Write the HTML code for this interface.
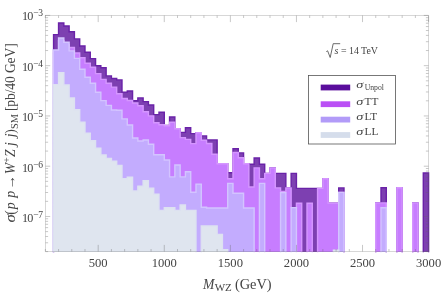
<!DOCTYPE html>
<html><head><meta charset="utf-8"><style>html,body{margin:0;padding:0;background:#fff}body{width:441px;height:293px;overflow:hidden;font-family:"Liberation Serif",serif}</style></head><body><svg width="441" height="293" viewBox="0 0 441 293" style="display:block;will-change:transform;transform:translateZ(0)">
<path d="M53.57 252.00 L53.57 34.60 L58.56 34.60 L58.56 23.00 L63.84 23.00 L63.84 26.00 L69.13 26.00 L69.13 31.80 L74.41 31.80 L74.41 38.90 L79.70 38.90 L79.70 46.00 L84.99 46.00 L84.99 52.30 L90.27 52.30 L90.27 58.60 L95.56 58.60 L95.56 65.80 L100.84 65.80 L100.84 67.70 L106.13 67.70 L106.13 75.90 L111.42 75.90 L111.42 78.50 L116.70 78.50 L116.70 79.90 L121.99 79.90 L121.99 92.10 L127.27 92.10 L127.27 91.00 L132.56 91.00 L132.56 100.70 L137.85 100.70 L137.85 97.90 L143.13 97.90 L143.13 101.60 L148.42 101.60 L148.42 105.00 L153.70 105.00 L153.70 114.60 L158.99 114.60 L158.99 112.30 L164.28 112.30 L164.28 125.50 L169.56 125.50 L169.56 117.00 L174.85 117.00 L174.85 128.80 L180.13 128.80 L180.13 132.40 L185.42 132.40 L185.42 127.80 L190.71 127.80 L190.71 133.60 L195.99 133.60 L195.99 132.70 L201.28 132.70 L201.28 135.90 L206.56 135.90 L206.56 139.90 L211.85 139.90 L211.85 139.90 L217.14 139.90 L217.14 163.80 L222.42 163.80 L222.42 163.80 L227.71 163.80 L227.71 172.80 L232.99 172.80 L232.99 148.80 L238.28 148.80 L238.28 152.90 L243.57 152.90 L243.57 163.80 L248.85 163.80 L248.85 164.30 L254.14 164.30 L254.14 158.00 L259.42 158.00 L259.42 164.30 L264.71 164.30 L264.71 173.40 L270.00 173.40 L270.00 167.90 L275.28 167.90 L275.28 173.40 L280.57 173.40 L280.57 173.40 L285.85 173.40 L285.85 187.90 L291.14 187.90 L291.14 173.40 L296.43 173.40 L296.43 188.40 L301.71 188.40 L301.71 188.40 L307.00 188.40 L307.00 188.40 L312.28 188.40 L312.28 188.40 L317.57 188.40 L317.57 188.40 L322.86 188.40 L322.86 178.80 L328.14 178.80 L328.14 203.10 L333.43 203.10 L333.43 203.10 L338.71 203.10 L338.71 187.90 L344.00 187.90 L344.00 251.50 L344.00 252.00 Z M375.72 252.00 L375.72 202.90 L381.00 202.90 L381.00 187.80 L386.29 187.80 L386.29 251.50 L386.29 252.00 Z M396.86 252.00 L396.86 187.80 L402.15 187.80 L402.15 251.50 L402.15 252.00 Z M412.72 252.00 L412.72 202.90 L418.00 202.90 L418.00 251.50 L418.00 252.00 Z M423.29 252.00 L423.29 173.00 L428.58 173.00 L428.58 251.50 L428.58 252.00 Z " fill="#7d40b1"/>
<path d="M53.57 251.50 L53.57 34.60 L58.56 34.60 L58.56 23.00 L63.84 23.00 L63.84 26.00 L69.13 26.00 L69.13 31.80 L74.41 31.80 L74.41 38.90 L79.70 38.90 L79.70 46.00 L84.99 46.00 L84.99 52.30 L90.27 52.30 L90.27 58.60 L95.56 58.60 L95.56 65.80 L100.84 65.80 L100.84 67.70 L106.13 67.70 L106.13 75.90 L111.42 75.90 L111.42 78.50 L116.70 78.50 L116.70 79.90 L121.99 79.90 L121.99 92.10 L127.27 92.10 L127.27 91.00 L132.56 91.00 L132.56 100.70 L137.85 100.70 L137.85 97.90 L143.13 97.90 L143.13 101.60 L148.42 101.60 L148.42 105.00 L153.70 105.00 L153.70 114.60 L158.99 114.60 L158.99 112.30 L164.28 112.30 L164.28 125.50 L169.56 125.50 L169.56 117.00 L174.85 117.00 L174.85 128.80 L180.13 128.80 L180.13 132.40 L185.42 132.40 L185.42 127.80 L190.71 127.80 L190.71 133.60 L195.99 133.60 L195.99 132.70 L201.28 132.70 L201.28 135.90 L206.56 135.90 L206.56 139.90 L211.85 139.90 L211.85 139.90 L217.14 139.90 L217.14 163.80 L222.42 163.80 L222.42 163.80 L227.71 163.80 L227.71 172.80 L232.99 172.80 L232.99 148.80 L238.28 148.80 L238.28 152.90 L243.57 152.90 L243.57 163.80 L248.85 163.80 L248.85 164.30 L254.14 164.30 L254.14 158.00 L259.42 158.00 L259.42 164.30 L264.71 164.30 L264.71 173.40 L270.00 173.40 L270.00 167.90 L275.28 167.90 L275.28 173.40 L280.57 173.40 L280.57 173.40 L285.85 173.40 L285.85 187.90 L291.14 187.90 L291.14 173.40 L296.43 173.40 L296.43 188.40 L301.71 188.40 L301.71 188.40 L307.00 188.40 L307.00 188.40 L312.28 188.40 L312.28 188.40 L317.57 188.40 L317.57 188.40 L322.86 188.40 L322.86 178.80 L328.14 178.80 L328.14 203.10 L333.43 203.10 L333.43 203.10 L338.71 203.10 L338.71 187.90 L344.00 187.90 L344.00 251.50 M375.72 251.50 L375.72 202.90 L381.00 202.90 L381.00 187.80 L386.29 187.80 L386.29 251.50 M396.86 251.50 L396.86 187.80 L402.15 187.80 L402.15 251.50 M412.72 251.50 L412.72 202.90 L418.00 202.90 L418.00 251.50 M423.29 251.50 L423.29 173.00 L428.58 173.00 L428.58 251.50 " fill="none" stroke="#6a22a8" stroke-width="1.40" stroke-linejoin="miter" stroke-linecap="square"/>
<path d="M53.57 252.00 L53.57 52.70 L58.56 52.70 L58.56 40.70 L63.84 40.70 L63.84 44.70 L69.13 44.70 L69.13 47.50 L74.41 47.50 L74.41 53.00 L79.70 53.00 L79.70 57.70 L84.99 57.70 L84.99 63.20 L90.27 63.20 L90.27 67.30 L95.56 67.30 L95.56 73.60 L100.84 73.60 L100.84 79.40 L106.13 79.40 L106.13 83.30 L111.42 83.30 L111.42 87.10 L116.70 87.10 L116.70 93.70 L121.99 93.70 L121.99 98.50 L127.27 98.50 L127.27 100.50 L132.56 100.50 L132.56 103.00 L137.85 103.00 L137.85 105.70 L143.13 105.70 L143.13 111.70 L148.42 111.70 L148.42 115.90 L153.70 115.90 L153.70 122.70 L158.99 122.70 L158.99 124.70 L164.28 124.70 L164.28 125.70 L169.56 125.70 L169.56 122.20 L174.85 122.20 L174.85 128.80 L180.13 128.80 L180.13 137.60 L185.42 137.60 L185.42 139.40 L190.71 139.40 L190.71 143.60 L195.99 143.60 L195.99 132.70 L201.28 132.70 L201.28 140.20 L206.56 140.20 L206.56 143.50 L211.85 143.50 L211.85 154.30 L217.14 154.30 L217.14 163.80 L222.42 163.80 L222.42 163.80 L227.71 163.80 L227.71 178.80 L232.99 178.80 L232.99 152.50 L238.28 152.50 L238.28 157.70 L243.57 157.70 L243.57 163.80 L248.85 163.80 L248.85 187.00 L254.14 187.00 L254.14 167.90 L259.42 167.90 L259.42 178.80 L264.71 178.80 L264.71 173.40 L270.00 173.40 L270.00 167.90 L275.28 167.90 L275.28 187.90 L280.57 187.90 L280.57 191.50 L285.85 191.50 L285.85 187.90 L291.14 187.90 L291.14 207.60 L296.43 207.60 L296.43 203.20 L301.71 203.20 L301.71 251.50 L301.71 252.00 Z M307.00 252.00 L307.00 203.20 L312.28 203.20 L312.28 251.50 L312.28 252.00 Z M317.57 252.00 L317.57 188.40 L322.86 188.40 L322.86 178.80 L328.14 178.80 L328.14 203.10 L333.43 203.10 L333.43 203.10 L338.71 203.10 L338.71 192.40 L344.00 192.40 L344.00 251.50 L344.00 252.00 Z M375.72 252.00 L375.72 202.90 L381.00 202.90 L381.00 202.90 L386.29 202.90 L386.29 251.50 L386.29 252.00 Z M396.86 252.00 L396.86 187.80 L402.15 187.80 L402.15 251.50 L402.15 252.00 Z M412.72 252.00 L412.72 202.90 L418.00 202.90 L418.00 251.50 L418.00 252.00 Z " fill="#c77dff"/>
<path d="M53.57 251.50 L53.57 52.70 L58.56 52.70 L58.56 40.70 L63.84 40.70 L63.84 44.70 L69.13 44.70 L69.13 47.50 L74.41 47.50 L74.41 53.00 L79.70 53.00 L79.70 57.70 L84.99 57.70 L84.99 63.20 L90.27 63.20 L90.27 67.30 L95.56 67.30 L95.56 73.60 L100.84 73.60 L100.84 79.40 L106.13 79.40 L106.13 83.30 L111.42 83.30 L111.42 87.10 L116.70 87.10 L116.70 93.70 L121.99 93.70 L121.99 98.50 L127.27 98.50 L127.27 100.50 L132.56 100.50 L132.56 103.00 L137.85 103.00 L137.85 105.70 L143.13 105.70 L143.13 111.70 L148.42 111.70 L148.42 115.90 L153.70 115.90 L153.70 122.70 L158.99 122.70 L158.99 124.70 L164.28 124.70 L164.28 125.70 L169.56 125.70 L169.56 122.20 L174.85 122.20 L174.85 128.80 L180.13 128.80 L180.13 137.60 L185.42 137.60 L185.42 139.40 L190.71 139.40 L190.71 143.60 L195.99 143.60 L195.99 132.70 L201.28 132.70 L201.28 140.20 L206.56 140.20 L206.56 143.50 L211.85 143.50 L211.85 154.30 L217.14 154.30 L217.14 163.80 L222.42 163.80 L222.42 163.80 L227.71 163.80 L227.71 178.80 L232.99 178.80 L232.99 152.50 L238.28 152.50 L238.28 157.70 L243.57 157.70 L243.57 163.80 L248.85 163.80 L248.85 187.00 L254.14 187.00 L254.14 167.90 L259.42 167.90 L259.42 178.80 L264.71 178.80 L264.71 173.40 L270.00 173.40 L270.00 167.90 L275.28 167.90 L275.28 187.90 L280.57 187.90 L280.57 191.50 L285.85 191.50 L285.85 187.90 L291.14 187.90 L291.14 207.60 L296.43 207.60 L296.43 203.20 L301.71 203.20 L301.71 251.50 M307.00 251.50 L307.00 203.20 L312.28 203.20 L312.28 251.50 M317.57 251.50 L317.57 188.40 L322.86 188.40 L322.86 178.80 L328.14 178.80 L328.14 203.10 L333.43 203.10 L333.43 203.10 L338.71 203.10 L338.71 192.40 L344.00 192.40 L344.00 251.50 M375.72 251.50 L375.72 202.90 L381.00 202.90 L381.00 202.90 L386.29 202.90 L386.29 251.50 M396.86 251.50 L396.86 187.80 L402.15 187.80 L402.15 251.50 M412.72 251.50 L412.72 202.90 L418.00 202.90 L418.00 251.50 " fill="none" stroke="#d596ff" stroke-width="1.40" stroke-linejoin="miter" stroke-linecap="square"/>
<path d="M53.27 252.00 L53.27 50.00 L58.56 50.00 L58.56 38.00 L63.84 38.00 L63.84 42.20 L69.13 42.20 L69.13 50.90 L74.41 50.90 L74.41 58.40 L79.70 58.40 L79.70 69.30 L84.99 69.30 L84.99 77.30 L90.27 77.30 L90.27 83.20 L95.56 83.20 L95.56 92.20 L100.84 92.20 L100.84 100.60 L106.13 100.60 L106.13 105.40 L111.42 105.40 L111.42 110.00 L116.70 110.00 L116.70 110.20 L121.99 110.20 L121.99 118.90 L127.27 118.90 L127.27 125.00 L132.56 125.00 L132.56 138.00 L137.85 138.00 L137.85 141.00 L143.13 141.00 L143.13 140.00 L148.42 140.00 L148.42 144.20 L153.70 144.20 L153.70 154.80 L158.99 154.80 L158.99 154.80 L164.28 154.80 L164.28 160.00 L169.56 160.00 L169.56 176.90 L174.85 176.90 L174.85 165.00 L180.13 165.00 L180.13 176.90 L185.42 176.90 L185.42 171.80 L190.71 171.80 L190.71 192.30 L195.99 192.30 L195.99 184.10 L201.28 184.10 L201.28 207.30 L206.56 207.30 L206.56 208.00 L211.85 208.00 L211.85 208.00 L217.14 208.00 L217.14 208.00 L222.42 208.00 L222.42 208.00 L227.71 208.00 L227.71 183.40 L232.99 183.40 L232.99 193.30 L238.28 193.30 L238.28 193.30 L243.57 193.30 L243.57 208.00 L248.85 208.00 L248.85 208.00 L254.14 208.00 L254.14 251.50 L254.14 252.00 Z M259.42 252.00 L259.42 183.40 L264.71 183.40 L264.71 251.50 L264.71 252.00 Z M280.57 252.00 L280.57 192.60 L285.85 192.60 L285.85 251.50 L285.85 252.00 Z M291.14 252.00 L291.14 207.60 L296.43 207.60 L296.43 251.50 L296.43 252.00 Z M338.71 252.00 L338.71 192.40 L344.00 192.40 L344.00 251.50 L344.00 252.00 Z M381.00 252.00 L381.00 207.80 L386.29 207.80 L386.29 251.50 L386.29 252.00 Z " fill="#c3acfe"/>
<path d="M53.27 251.50 L53.27 50.00 L58.56 50.00 L58.56 38.00 L63.84 38.00 L63.84 42.20 L69.13 42.20 L69.13 50.90 L74.41 50.90 L74.41 58.40 L79.70 58.40 L79.70 69.30 L84.99 69.30 L84.99 77.30 L90.27 77.30 L90.27 83.20 L95.56 83.20 L95.56 92.20 L100.84 92.20 L100.84 100.60 L106.13 100.60 L106.13 105.40 L111.42 105.40 L111.42 110.00 L116.70 110.00 L116.70 110.20 L121.99 110.20 L121.99 118.90 L127.27 118.90 L127.27 125.00 L132.56 125.00 L132.56 138.00 L137.85 138.00 L137.85 141.00 L143.13 141.00 L143.13 140.00 L148.42 140.00 L148.42 144.20 L153.70 144.20 L153.70 154.80 L158.99 154.80 L158.99 154.80 L164.28 154.80 L164.28 160.00 L169.56 160.00 L169.56 176.90 L174.85 176.90 L174.85 165.00 L180.13 165.00 L180.13 176.90 L185.42 176.90 L185.42 171.80 L190.71 171.80 L190.71 192.30 L195.99 192.30 L195.99 184.10 L201.28 184.10 L201.28 207.30 L206.56 207.30 L206.56 208.00 L211.85 208.00 L211.85 208.00 L217.14 208.00 L217.14 208.00 L222.42 208.00 L222.42 208.00 L227.71 208.00 L227.71 183.40 L232.99 183.40 L232.99 193.30 L238.28 193.30 L238.28 193.30 L243.57 193.30 L243.57 208.00 L248.85 208.00 L248.85 208.00 L254.14 208.00 L254.14 251.50 M259.42 251.50 L259.42 183.40 L264.71 183.40 L264.71 251.50 M280.57 251.50 L280.57 192.60 L285.85 192.60 L285.85 251.50 M291.14 251.50 L291.14 207.60 L296.43 207.60 L296.43 251.50 M338.71 251.50 L338.71 192.40 L344.00 192.40 L344.00 251.50 M381.00 251.50 L381.00 207.80 L386.29 207.80 L386.29 251.50 " fill="none" stroke="#d3c4ff" stroke-width="1.40" stroke-linejoin="miter" stroke-linecap="square"/>
<path d="M53.27 252.00 L53.27 84.60 L58.56 84.60 L58.56 72.80 L63.84 72.80 L63.84 85.00 L69.13 85.00 L69.13 97.90 L74.41 97.90 L74.41 109.80 L79.70 109.80 L79.70 122.30 L84.99 122.30 L84.99 133.20 L90.27 133.20 L90.27 140.70 L95.56 140.70 L95.56 148.20 L100.84 148.20 L100.84 155.00 L106.13 155.00 L106.13 158.40 L111.42 158.40 L111.42 161.20 L116.70 161.20 L116.70 165.50 L121.99 165.50 L121.99 178.70 L127.27 178.70 L127.27 177.20 L132.56 177.20 L132.56 190.90 L137.85 190.90 L137.85 186.20 L143.13 186.20 L143.13 180.70 L148.42 180.70 L148.42 188.20 L153.70 188.20 L153.70 194.20 L158.99 194.20 L158.99 210.40 L164.28 210.40 L164.28 207.70 L169.56 207.70 L169.56 207.70 L174.85 207.70 L174.85 210.40 L180.13 210.40 L180.13 205.00 L185.42 205.00 L185.42 210.40 L190.71 210.40 L190.71 210.40 L195.99 210.40 L195.99 251.50 L195.99 252.00 Z M201.28 252.00 L201.28 226.00 L206.56 226.00 L206.56 226.00 L211.85 226.00 L211.85 226.00 L217.14 226.00 L217.14 234.40 L222.42 234.40 L222.42 249.80 L227.71 249.80 L227.71 251.50 L227.71 252.00 Z M333.43 252.00 L333.43 250.10 L338.71 250.10 L338.71 251.50 L338.71 252.00 Z " fill="#dfe5ef"/>
<path d="M53.27 251.50 L53.27 84.60 L58.56 84.60 L58.56 72.80 L63.84 72.80 L63.84 85.00 L69.13 85.00 L69.13 97.90 L74.41 97.90 L74.41 109.80 L79.70 109.80 L79.70 122.30 L84.99 122.30 L84.99 133.20 L90.27 133.20 L90.27 140.70 L95.56 140.70 L95.56 148.20 L100.84 148.20 L100.84 155.00 L106.13 155.00 L106.13 158.40 L111.42 158.40 L111.42 161.20 L116.70 161.20 L116.70 165.50 L121.99 165.50 L121.99 178.70 L127.27 178.70 L127.27 177.20 L132.56 177.20 L132.56 190.90 L137.85 190.90 L137.85 186.20 L143.13 186.20 L143.13 180.70 L148.42 180.70 L148.42 188.20 L153.70 188.20 L153.70 194.20 L158.99 194.20 L158.99 210.40 L164.28 210.40 L164.28 207.70 L169.56 207.70 L169.56 207.70 L174.85 207.70 L174.85 210.40 L180.13 210.40 L180.13 205.00 L185.42 205.00 L185.42 210.40 L190.71 210.40 L190.71 210.40 L195.99 210.40 L195.99 251.50 M201.28 251.50 L201.28 226.00 L206.56 226.00 L206.56 226.00 L211.85 226.00 L211.85 226.00 L217.14 226.00 L217.14 234.40 L222.42 234.40 L222.42 249.80 L227.71 249.80 L227.71 251.50 M333.43 251.50 L333.43 250.10 L338.71 250.10 L338.71 251.50 " fill="none" stroke="#dde1f1" stroke-width="1.40" stroke-linejoin="miter" stroke-linecap="square"/>
<path d="M45.34 251.50 v-2.50 M45.34 15.50 v2.50 M58.55 251.50 v-2.50 M58.55 15.50 v2.50 M71.77 251.50 v-2.50 M71.77 15.50 v2.50 M84.98 251.50 v-2.50 M84.98 15.50 v2.50 M98.20 251.50 v-6.60 M98.20 15.50 v6.60 M111.42 251.50 v-2.50 M111.42 15.50 v2.50 M124.63 251.50 v-2.50 M124.63 15.50 v2.50 M137.85 251.50 v-2.50 M137.85 15.50 v2.50 M151.06 251.50 v-2.50 M151.06 15.50 v2.50 M164.28 251.50 v-6.60 M164.28 15.50 v6.60 M177.50 251.50 v-2.50 M177.50 15.50 v2.50 M190.71 251.50 v-2.50 M190.71 15.50 v2.50 M203.93 251.50 v-2.50 M203.93 15.50 v2.50 M217.14 251.50 v-2.50 M217.14 15.50 v2.50 M230.36 251.50 v-6.60 M230.36 15.50 v6.60 M243.58 251.50 v-2.50 M243.58 15.50 v2.50 M256.79 251.50 v-2.50 M256.79 15.50 v2.50 M270.01 251.50 v-2.50 M270.01 15.50 v2.50 M283.22 251.50 v-2.50 M283.22 15.50 v2.50 M296.44 251.50 v-6.60 M296.44 15.50 v6.60 M309.66 251.50 v-2.50 M309.66 15.50 v2.50 M322.87 251.50 v-2.50 M322.87 15.50 v2.50 M336.09 251.50 v-2.50 M336.09 15.50 v2.50 M349.30 251.50 v-2.50 M349.30 15.50 v2.50 M362.52 251.50 v-6.60 M362.52 15.50 v6.60 M375.74 251.50 v-2.50 M375.74 15.50 v2.50 M388.95 251.50 v-2.50 M388.95 15.50 v2.50 M402.17 251.50 v-2.50 M402.17 15.50 v2.50 M415.38 251.50 v-2.50 M415.38 15.50 v2.50 M428.60 251.50 v-6.60 M428.60 15.50 v6.60 M45.50 15.40 h4.70 M428.50 15.40 h-4.70 M45.50 65.67 h4.70 M428.50 65.67 h-4.70 M45.50 50.54 h2.60 M428.50 50.54 h-2.60 M45.50 41.69 h2.60 M428.50 41.69 h-2.60 M45.50 35.40 h2.60 M428.50 35.40 h-2.60 M45.50 30.53 h2.60 M428.50 30.53 h-2.60 M45.50 26.55 h2.60 M428.50 26.55 h-2.60 M45.50 23.19 h2.60 M428.50 23.19 h-2.60 M45.50 20.27 h2.60 M428.50 20.27 h-2.60 M45.50 17.70 h2.60 M428.50 17.70 h-2.60 M45.50 115.94 h4.70 M428.50 115.94 h-4.70 M45.50 100.81 h2.60 M428.50 100.81 h-2.60 M45.50 91.96 h2.60 M428.50 91.96 h-2.60 M45.50 85.67 h2.60 M428.50 85.67 h-2.60 M45.50 80.80 h2.60 M428.50 80.80 h-2.60 M45.50 76.82 h2.60 M428.50 76.82 h-2.60 M45.50 73.46 h2.60 M428.50 73.46 h-2.60 M45.50 70.54 h2.60 M428.50 70.54 h-2.60 M45.50 67.97 h2.60 M428.50 67.97 h-2.60 M45.50 166.21 h4.70 M428.50 166.21 h-4.70 M45.50 151.08 h2.60 M428.50 151.08 h-2.60 M45.50 142.23 h2.60 M428.50 142.23 h-2.60 M45.50 135.94 h2.60 M428.50 135.94 h-2.60 M45.50 131.07 h2.60 M428.50 131.07 h-2.60 M45.50 127.09 h2.60 M428.50 127.09 h-2.60 M45.50 123.73 h2.60 M428.50 123.73 h-2.60 M45.50 120.81 h2.60 M428.50 120.81 h-2.60 M45.50 118.24 h2.60 M428.50 118.24 h-2.60 M45.50 216.48 h4.70 M428.50 216.48 h-4.70 M45.50 201.35 h2.60 M428.50 201.35 h-2.60 M45.50 192.50 h2.60 M428.50 192.50 h-2.60 M45.50 186.21 h2.60 M428.50 186.21 h-2.60 M45.50 181.34 h2.60 M428.50 181.34 h-2.60 M45.50 177.36 h2.60 M428.50 177.36 h-2.60 M45.50 174.00 h2.60 M428.50 174.00 h-2.60 M45.50 171.08 h2.60 M428.50 171.08 h-2.60 M45.50 168.51 h2.60 M428.50 168.51 h-2.60 M45.50 251.62 h2.60 M428.50 251.62 h-2.60 M45.50 242.77 h2.60 M428.50 242.77 h-2.60 M45.50 236.48 h2.60 M428.50 236.48 h-2.60 M45.50 231.61 h2.60 M428.50 231.61 h-2.60 M45.50 227.63 h2.60 M428.50 227.63 h-2.60 M45.50 224.27 h2.60 M428.50 224.27 h-2.60 M45.50 221.35 h2.60 M428.50 221.35 h-2.60 M45.50 218.78 h2.60 M428.50 218.78 h-2.60" stroke="#666" stroke-width="0.36" fill="none"/>
<rect x="45.50" y="15.50" width="383.00" height="236.00" fill="none" stroke="#666" stroke-width="0.26"/>
<g font-family="Liberation Serif, serif" fill="#444">
<text x="98.20" y="266.7" font-size="12.6" text-anchor="middle">500</text>
<text x="164.28" y="266.7" font-size="12.6" text-anchor="middle">1000</text>
<text x="230.36" y="266.7" font-size="12.6" text-anchor="middle">1500</text>
<text x="296.44" y="266.7" font-size="12.6" text-anchor="middle">2000</text>
<text x="362.52" y="266.7" font-size="12.6" text-anchor="middle">2500</text>
<text x="428.60" y="266.7" font-size="12.6" text-anchor="middle">3000</text>
<text x="22.1" y="20.40" font-size="12.2"><tspan letter-spacing="-0.9">10</tspan><tspan font-size="9.5" dy="-4.0" dx="0.7" letter-spacing="-0.4">−3</tspan></text>
<text x="22.1" y="70.90" font-size="12.2"><tspan letter-spacing="-0.9">10</tspan><tspan font-size="9.5" dy="-4.0" dx="0.7" letter-spacing="-0.4">−4</tspan></text>
<text x="22.1" y="120.90" font-size="12.2"><tspan letter-spacing="-0.9">10</tspan><tspan font-size="9.5" dy="-4.0" dx="0.7" letter-spacing="-0.4">−5</tspan></text>
<text x="22.1" y="171.70" font-size="12.2"><tspan letter-spacing="-0.9">10</tspan><tspan font-size="9.5" dy="-4.0" dx="0.7" letter-spacing="-0.4">−6</tspan></text>
<text x="22.1" y="221.60" font-size="12.2"><tspan letter-spacing="-0.9">10</tspan><tspan font-size="9.5" dy="-4.0" dx="0.7" letter-spacing="-0.4">−7</tspan></text>
<text x="203" y="288.5" font-size="13.7"><tspan font-style="italic">M</tspan><tspan font-size="11" dy="2.9" dx="0.3">WZ</tspan><tspan dy="-2.9" dx="3.1" font-size="14.4">(GeV)</tspan></text>
<text transform="translate(15.3,222.4) rotate(-90) scale(1.22,1)" font-size="13.7" font-style="italic">σ</text>
<text transform="translate(15.3,214.7) rotate(-90)" font-size="13.7">(<tspan font-style="italic" dx="1.0">p</tspan><tspan font-style="italic" dx="4.5">p</tspan><tspan dx="1.5" font-size="14.5">→</tspan><tspan font-style="italic" dx="0.7">W</tspan><tspan font-size="9.7" dy="-5">+</tspan><tspan dy="5" font-style="italic" dx="0.3">Z</tspan><tspan font-style="italic" dx="3.4">j</tspan><tspan font-style="italic" dx="5.1">j</tspan><tspan dx="-0.4">)</tspan><tspan font-size="10.4" dy="2.9" dx="0.2">SM</tspan><tspan dy="-2.9" dx="-0.4" letter-spacing="-0.17"> [pb/40 GeV]</tspan></text>
<text x="334.6" y="54" font-size="9.9"><tspan font-style="italic">s</tspan> = 14 TeV</text>
<path d="M326.3 51.6 l1.3 -0.8 l2.6 6.7 l3.0 -13.8 h7.0" fill="none" stroke="#444" stroke-width="0.8"/>
<rect x="308.5" y="75.4" width="87" height="68.6" fill="#fff" stroke="#555" stroke-width="0.8"/>
<rect x="320.7" y="84.60" width="29.5" height="5.8" fill="#5a0e9c"/>
<rect x="320.7" y="101.30" width="29.5" height="5.8" fill="#ba50f5"/>
<rect x="320.7" y="116.70" width="29.5" height="5.8" fill="#b29bf8"/>
<rect x="320.7" y="132.10" width="29.5" height="5.8" fill="#d5ddeb"/>
<text transform="translate(356.20,87.80) scale(1.3,1)" font-size="11" font-style="italic">σ</text>
<text x="364.7" y="89.7" font-size="7.7">Unpol</text>
<text transform="translate(356.20,104.50) scale(1.3,1)" font-size="11" font-style="italic">σ</text>
<text x="364.5" y="104.50" font-size="11.3">TT</text>
<text transform="translate(356.20,120.00) scale(1.3,1)" font-size="11" font-style="italic">σ</text>
<text x="364.5" y="120.00" font-size="11.3">LT</text>
<text transform="translate(356.20,135.40) scale(1.3,1)" font-size="11" font-style="italic">σ</text>
<text x="364.5" y="135.40" font-size="11.3">LL</text>
</g>
</svg></body></html>
